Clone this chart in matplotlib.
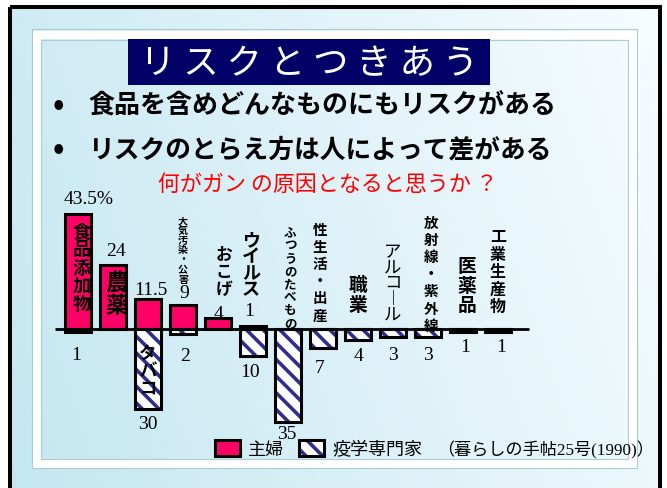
import matplotlib
matplotlib.use('Agg')
import matplotlib.pyplot as plt
import matplotlib.transforms as mtransforms
from matplotlib.patches import Rectangle
from matplotlib.legend_handler import HandlerTuple
import numpy as np

plt.rcParams['font.family'] = ['Noto Sans CJK JP', 'DejaVu Sans']
plt.rcParams['hatch.linewidth'] = 2.6

W, H = 667, 489

# 何がガンの原因となると思うか (暮らしの手帖25号, 1990)
causes = ['食品添加物', '農薬', 'タバコ', '大気汚染・公害', 'おこげ', 'ウイルス',
          'ふつうのたべもの', '性生活・出産', '職業', 'アルコール',
          '放射線・紫外線', '医薬品', '工業生産物']
housewives = [43.5, 24, 11.5, 9, 4, 1, 0, 0, 0, 0, 0, 0, 0]
experts = [1, 0, 30, 2, 0, 10, 35, 7, 4, 3, 3, 1, 1]
series_names = ['主婦', '疫学専門家']
source = '（暮らしの手帖25号(1990)）'

title = 'リ ス ク と つ き あ う'
bullets = ['食品を含めどんなものにもリスクがある',
           'リスクのとらえ方は人によって差がある']
question = '何がガン の原因となると思うか ？'

PINK = '#ff0066'
NAVY = '#2e2e8f'
SERIF = ['Liberation Serif', 'DejaVu Serif']

# layout of the vertical category labels
lab_dx = [0.11, 0.11, 0, 0, 0.17, -0.06, 0.06, -0.09, 0, 0, 0.09, 0.11, 0]
lab_top = [222, 272, 345, 216, 246, 231, 226, 222, 276, 243, 215, 257, 229]
lab_size = [13, 16.5, 12.5, 7.2, 12, 13, 9, 10.5, 13.5, 12.5, 10.5, 13.5, 11.5]
lab_step = [17.8, 23, 17, 10, 16, 15.5, 12.9, 16.3, 21, 14.8, 16.3, 20, 18.4]
lab_bold = [True] * 9 + [False] + [True] * 3

# value label offsets (pixels from the bar end)
hw_off = [(11, 15), (3, 15), (3, 9), (1, 13), (1, 5), (-4, 16)]
ex_off = [(-2, 23), (0, 0), (0, 15), (2, 21), (0, 0), (-3, 16), (-1, 12),
          (-3, 20), (0, 16), (0, 18), (0, 18), (2, 15), (3, 15)]

fig = plt.figure(figsize=(W / 100, H / 100), dpi=100)

# slide background
bg = fig.add_axes([0, 0, 1, 1])
xx, yy = np.meshgrid(np.linspace(0, 1, 300), np.linspace(0, 1, 220))
t = np.clip(0.8 * xx + 0.2 * (1 - yy), 0, 1)[..., None]
c0 = np.array([0.77, 0.905, 0.945])
c1 = np.array([0.97, 0.99, 1.0])
bg.imshow(c0 * (1 - t) + c1 * t, extent=(10, 660, H, 8), aspect='auto',
          interpolation='bilinear', zorder=0)
bg.set_xlim(0, W)
bg.set_ylim(H, 0)
bg.axis('off')

bg.add_patch(Rectangle((10, 8), 650, H + 10, fill=False, ec='black', lw=2.9))
bg.add_patch(Rectangle((36.5, 35.5), 596, 429, fill=False, ec='white', lw=6.0))
bg.add_patch(Rectangle((32, 30), 605, 439, fill=False, ec='#a9cdd3', lw=0.8))
bg.add_patch(Rectangle((41, 41), 587, 419, fill=False, ec='#a9cdd3', lw=0.8))

bg.add_patch(Rectangle((128, 40), 362, 46, fc='#000066', ec='none'))
bg.text(309, 64, title, color='white', size=25.5, ha='center', va='center')

for y, s, size in zip([106, 150], bullets, [18.7, 18.5]):
    bg.text(53, y, '•', size=22, fontweight='bold', ha='left', va='center')
    bg.text(88, y, s, size=size, fontweight='bold', ha='left', va='center')
bg.text(158, 185, question, color='red', size=15.8, ha='left', va='center')

# chart
ax = fig.add_axes([0, 0, 1, 1])
ax.patch.set_alpha(0)
ax.axis('off')
x = np.arange(len(causes))
ex_neg = [-v for v in experts]
shift = mtransforms.offset_copy(ax.transData, fig=fig, x=2, y=-2, units='dots')

hw_fill = ax.bar(x, housewives, 0.77, color=PINK, lw=0, transform=shift, zorder=2)
ex_fill = ax.bar(x, ex_neg, 0.77, color='white', edgecolor=NAVY, hatch='\\\\',
                 lw=0, transform=shift, zorder=2)
hw_box = ax.bar(x, housewives, 0.77, fill=False, edgecolor='black', lw=2.2, zorder=3)
ex_box = ax.bar(x, ex_neg, 0.77, fill=False, edgecolor='black', lw=2.2, zorder=3)
ax.hlines(0, -0.66, 12.89, color='black', lw=2.0, zorder=4)

ax.set_xlim(-78 / 35, (W - 78) / 35)
ax.set_ylim(-(H - 330) / 2.65, 330 / 2.65)

for i, v in enumerate(housewives):
    if v:
        txt = f'{v:g}%' if i == 0 else f'{v:g}'
        dx, dy = hw_off[i]
        ax.annotate(txt, (i, v), xytext=(dx, dy), textcoords='offset pixels',
                    ha='center', va='center', family=SERIF, size=14, zorder=5)
for i, v in enumerate(experts):
    if v:
        dx, dy = ex_off[i]
        ax.annotate(f'{v:g}', (i, -v), xytext=(dx, -dy), textcoords='offset pixels',
                    ha='center', va='center', family=SERIF, size=14, zorder=5)

lab_tr = mtransforms.blended_transform_factory(ax.transData, bg.transData)
for i, name in enumerate(causes):
    s = '\n'.join(name.replace('ー', '︱'))
    em = lab_size[i] * 100 / 72
    ax.text(i + lab_dx[i], lab_top[i], s, transform=lab_tr, ha='center', va='top',
            multialignment='center', size=lab_size[i],
            linespacing=lab_step[i] / (1.03 * em),
            fontweight='bold' if lab_bold[i] else 'normal', zorder=6)

ax.legend([(hw_fill, hw_box), (ex_fill, ex_box)], series_names,
          handler_map={tuple: HandlerTuple(ndivide=1, pad=0)}, ncol=2,
          loc='center left', bbox_to_anchor=(215 / W, 1 - 450 / H),
          bbox_transform=fig.transFigure, frameon=False, borderpad=0,
          borderaxespad=0, handlelength=1.4, handleheight=1.0,
          handletextpad=0.45, columnspacing=0.8, prop={'size': 13})
bg.text(437, 450, source, family=['Liberation Serif', 'Noto Sans CJK JP'],
        size=12.3, ha='left', va='center')

fig.savefig('out.png', dpi=100)
